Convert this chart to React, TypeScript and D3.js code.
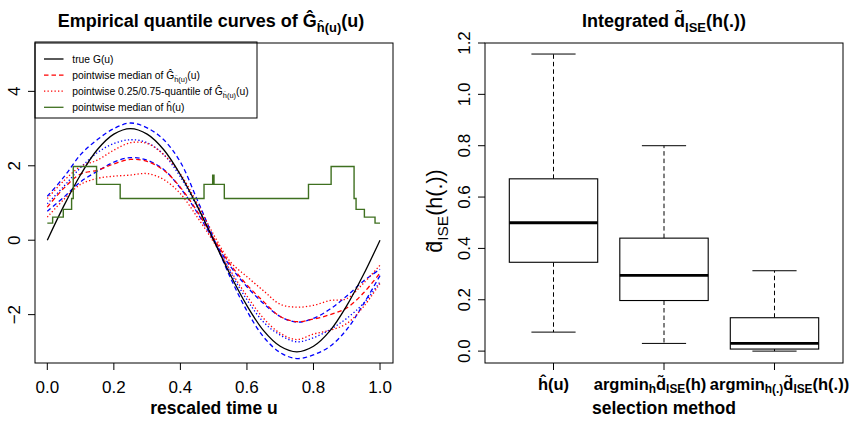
import React from "react";
import * as d3 from "d3";

// ---------- data: left panel ----------
const uGrid = [0, 0.05, 0.1, 0.15, 0.2, 0.25, 0.3, 0.35, 0.4, 0.45, 0.5, 0.55, 0.6, 0.65, 0.7, 0.75, 0.8, 0.85, 0.9, 0.95, 1.0];
const trueG = [0, 0.93, 1.76, 2.43, 2.85, 3.0, 2.85, 2.43, 1.76, 0.93, 0, -0.93, -1.76, -2.43, -2.85, -3.0, -2.85, -2.43, -1.76, -0.93, 0];
const redMedian = [0.89, 1.4, 1.78, 1.88, 2.05, 2.17, 2.12, 1.88, 1.42, 0.78, 0.05, -0.65, -1.2, -1.65, -2.05, -2.19, -2.12, -2.0, -1.82, -1.42, -0.88];
const redQ75 = [1.12, 1.6, 1.98, 2.15, 2.42, 2.62, 2.6, 2.3, 1.78, 1.0, 0.15, -0.58, -0.98, -1.36, -1.72, -1.8, -1.75, -1.62, -1.57, -1.16, -0.67];
const redQ25 = [0.62, 1.1, 1.5, 1.66, 1.72, 1.75, 1.79, 1.63, 1.25, 0.63, -0.05, -0.81, -1.5, -2.1, -2.5, -2.67, -2.52, -2.42, -2.24, -1.79, -1.16];
const blueOuter = [1.18, 1.7, 2.3, 2.7, 3.0, 3.15, 3.02, 2.7, 2.1, 1.1, 0.05, -1.0, -1.9, -2.6, -3.02, -3.18, -3.08, -2.85, -2.4, -1.72, -0.95];
const blueMid = [0.78, 1.16, 1.57, 1.85, 2.1, 2.22, 2.15, 1.9, 1.4, 0.75, 0.0, -0.7, -1.25, -1.7, -2.05, -2.2, -2.1, -1.85, -1.5, -1.1, -0.78];
const blueDotted = [0.98, 1.45, 1.95, 2.35, 2.6, 2.7, 2.62, 2.3, 1.7, 0.9, 0.0, -0.85, -1.6, -2.2, -2.55, -2.73, -2.62, -2.4, -2.1, -1.7, -1.12];
const hBreaks = [0, 0.016, 0.048, 0.073, 0.078, 0.148, 0.219, 0.471, 0.497, 0.501, 0.532, 0.785, 0.853, 0.922, 0.928, 0.953, 0.985, 1.0];
const hLevels = [0.46, 0.62, 0.83, 1.12, 1.98, 1.5, 1.12, 1.5, 1.75, 1.5, 1.12, 1.5, 1.98, 1.12, 0.83, 0.62, 0.46, 0.46];
const xTicksL = [0, 0.2, 0.4, 0.6, 0.8, 1.0];
const yTicksL = [-2, 0, 2, 4];

// ---------- data: right panel ----------
const methodPos = [1, 2, 3];
const whiskerLow = [0.074, 0.03, 0.0];
const q1 = [0.346, 0.197, 0.008];
const median = [0.5, 0.295, 0.03];
const q3 = [0.671, 0.44, 0.13];
const whiskerHigh = [1.157, 0.8, 0.313];
const yTicksR = [0, 0.2, 0.4, 0.6, 0.8, 1.0, 1.2];

const FONT = "'Liberation Sans', Arial, Helvetica, sans-serif";
const GREEN = "#3f7020";

type Part = { t: string; sub?: boolean };

function MathText(props: { parts: Part[]; size: number; x?: number; y?: number; anchor?: string; weight?: string; transform?: string; subScale?: number; shiftFrac?: number }) {
  const { parts, size, x = 0, y = 0, anchor = "start", weight = "normal", transform } = props;
  const subScale = props.subScale ?? 0.72;
  const shift = size * (props.shiftFrac ?? 0.3);
  let inSub = false;
  return (
    <text x={x} y={y} textAnchor={anchor} fontWeight={weight} fontSize={size} fontFamily={FONT} transform={transform} fill="#000">
      {parts.map((p, i) => {
        let dy = 0;
        if (p.sub && !inSub) { dy = shift; inSub = true; }
        else if (!p.sub && inSub) { dy = -shift; inSub = false; }
        return (
          <tspan key={i} dy={dy} fontSize={p.sub ? size * subScale : size}>{p.t}</tspan>
        );
      })}
    </text>
  );
}

const G = "\u011C";
const hh = "\u0125";
const dt = "d\u0303";

export default function App() {
  const L = { x0: 35, x1: 393, y0: 43, y1: 363 };
  const R = { x0: 485, x1: 843, y0: 43, y1: 363 };
  const xL = d3.scaleLinear().domain([-0.037, 1.039]).range([L.x0, L.x1]);
  const yL = d3.scaleLinear().domain([-3.3, 5.3]).range([L.y1, L.y0]);
  const xR = d3.scaleLinear().domain([0.38, 3.62]).range([R.x0, R.x1]);
  const yR = d3.scaleLinear().domain([-0.0463, 1.2]).range([R.y1, R.y0]);

  const curve = d3.line<number>()
    .x((_, i) => xL(uGrid[i]))
    .y((d) => yL(d))
    .curve(d3.curveCatmullRom.alpha(0.5));

  const stepLine = d3.line<number>()
    .x((_, i) => xL(hBreaks[i]))
    .y((d) => yL(d))
    .curve(d3.curveStepAfter);

  const series = [
    { data: blueOuter, color: "#0000ff", dash: "4.5,3" },
    { data: blueMid, color: "#0000ff", dash: "4.5,3" },
    { data: blueDotted, color: "#0000ff", dash: "1.3,2.2" },
    { data: redQ75, color: "#ff0000", dash: "1.3,2.2" },
    { data: redQ25, color: "#ff0000", dash: "1.3,2.2" },
    { data: redMedian, color: "#ff0000", dash: "4.5,3" },
    { data: trueG, color: "#000000", dash: undefined },
  ];

  const legendItems: { color: string; dash?: string; parts: Part[] }[] = [
    { color: "#000", parts: [{ t: "true G(u)" }] },
    { color: "#ff0000", dash: "4.5,3", parts: [{ t: "pointwise median of " + G }, { t: hh + "(u)", sub: true }, { t: "(u)" }] },
    { color: "#ff0000", dash: "1.3,2.2", parts: [{ t: "pointwise 0.25/0.75-quantile of " + G }, { t: hh + "(u)", sub: true }, { t: "(u)" }] },
    { color: GREEN, parts: [{ t: "pointwise median of " + hh + "(u)" }] },
  ];

  const boxHalf = 0.4;
  const stapleHalf = 0.2;

  const xLabelParts: Part[][] = [
    [{ t: hh + "(u)" }],
    [{ t: "argmin" }, { t: "h", sub: true }, { t: dt }, { t: "ISE", sub: true }, { t: "(h)" }],
    [{ t: "argmin" }, { t: "h(.)", sub: true }, { t: dt }, { t: "ISE", sub: true }, { t: "(h(.))" }],
  ];
  const xLabelShift = [0, -14, 5];

  return (
    <svg width={852} height={427} style={{ display: "block", position: "absolute", left: 0, top: 0, background: "#fff" }}>
      <rect x={0} y={0} width={852} height={427} fill="#fff" />
      {/* ---------- LEFT PANEL ---------- */}
      <MathText
        parts={[{ t: "Empirical quantile curves of " + G }, { t: hh + "(u)", sub: true }, { t: "(u)" }]}
        size={18}
        x={(L.x0 + L.x1) / 2 - 3}
        y={27}
        anchor="middle"
        weight="bold"
      />
      <g fill="none" strokeWidth={1.3}>
        {series.map((s, i) => (
          <path key={i} d={curve(s.data) || ""} stroke={s.color} strokeDasharray={s.dash} />
        ))}
        <path d={stepLine(hLevels) || ""} stroke={GREEN} strokeWidth={1.4} />
      </g>
      {/* legend */}
      <rect x={L.x0} y={L.y0 - 1} width={222} height={76} fill="#fff" stroke="#000" strokeWidth={1} />
      {legendItems.map((it, i) => {
        const y = 59 + i * 16.1;
        return (
          <g key={i}>
            <line x1={44} x2={63.5} y1={y} y2={y} stroke={it.color} strokeWidth={1.3} strokeDasharray={it.dash} />
            <MathText parts={it.parts} size={10.3} x={72.3} y={y + 3.6} />
          </g>
        );
      })}
      <rect x={L.x0} y={L.y0} width={L.x1 - L.x0} height={L.y1 - L.y0} fill="none" stroke="#000" strokeWidth={1} />
      {xTicksL.map((t) => (
        <g key={t}>
          <line x1={xL(t)} x2={xL(t)} y1={L.y1} y2={L.y1 + 7} stroke="#000" />
          <text x={xL(t)} y={393} textAnchor="middle" fontSize={17} fontFamily={FONT}>{t.toFixed(1)}</text>
        </g>
      ))}
      {yTicksL.map((t) => (
        <g key={t}>
          <line x1={L.x0 - 7} x2={L.x0} y1={yL(t)} y2={yL(t)} stroke="#000" />
          <text transform={`translate(20,${yL(t)}) rotate(-90)`} textAnchor="middle" fontSize={17} fontFamily={FONT}>
            {t < 0 ? "\u2212" + Math.abs(t) : String(t)}
          </text>
        </g>
      ))}
      <text x={(L.x0 + L.x1) / 2} y={413.5} textAnchor="middle" fontSize={17.5} fontWeight="bold" fontFamily={FONT}>rescaled time u</text>

      {/* ---------- RIGHT PANEL ---------- */}
      <MathText
        parts={[{ t: "Integrated " + dt }, { t: "ISE", sub: true }, { t: "(h(.))" }]}
        size={18}
        x={(R.x0 + R.x1) / 2}
        y={27}
        anchor="middle"
        weight="bold"
      />
      {methodPos.map((m, i) => {
        const cx = xR(m);
        const bl = xR(m - boxHalf);
        const br = xR(m + boxHalf);
        const sl = xR(m - stapleHalf);
        const sr = xR(m + stapleHalf);
        return (
          <g key={m} stroke="#000" fill="none">
            <line x1={cx} x2={cx} y1={yR(q3[i])} y2={yR(whiskerHigh[i])} strokeDasharray="4.5,3" strokeWidth={1} />
            <line x1={cx} x2={cx} y1={yR(q1[i])} y2={yR(whiskerLow[i])} strokeDasharray="4.5,3" strokeWidth={1} />
            <line x1={sl} x2={sr} y1={yR(whiskerHigh[i])} y2={yR(whiskerHigh[i])} strokeWidth={1} />
            <line x1={sl} x2={sr} y1={yR(whiskerLow[i])} y2={yR(whiskerLow[i])} strokeWidth={1} />
            <rect x={bl} y={yR(q3[i])} width={br - bl} height={yR(q1[i]) - yR(q3[i])} fill="#fff" strokeWidth={1.1} />
            <line x1={bl} x2={br} y1={yR(median[i])} y2={yR(median[i])} strokeWidth={2.8} />
            <line x1={cx} x2={cx} y1={R.y1} y2={R.y1 + 7} strokeWidth={1} />
          </g>
        );
      })}
      <rect x={R.x0} y={R.y0} width={R.x1 - R.x0} height={R.y1 - R.y0} fill="none" stroke="#000" strokeWidth={1} />
      {yTicksR.map((t) => (
        <g key={t}>
          <line x1={R.x0 - 7} x2={R.x0} y1={yR(t)} y2={yR(t)} stroke="#000" />
          <text transform={`translate(470,${yR(t)}) rotate(-90)`} textAnchor="middle" fontSize={17} fontFamily={FONT}>{t.toFixed(1)}</text>
        </g>
      ))}
      {methodPos.map((m, i) => (
        <MathText key={m} parts={xLabelParts[i]} size={16.5} x={xR(m) + xLabelShift[i]} y={389.5} anchor="middle" weight="bold" shiftFrac={0.22} />
      ))}
      <text x={(R.x0 + R.x1) / 2} y={414} textAnchor="middle" fontSize={17.5} fontWeight="bold" fontFamily={FONT}>selection method</text>
      <MathText
        parts={[{ t: dt }, { t: "ISE", sub: true }, { t: "(h(.))" }]}
        size={21.5}
        transform={`translate(442,${(R.y0 + R.y1) / 2 + 8}) rotate(-90)`}
        anchor="middle"
      />
    </svg>
  );
}
